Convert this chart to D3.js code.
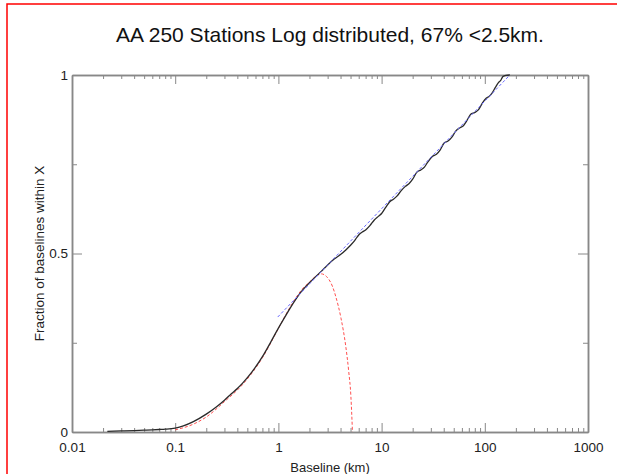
<!DOCTYPE html>
<html>
<head>
<meta charset="utf-8">
<script src="https://cdn.jsdelivr.net/npm/d3@7"></script>
<style>
body { margin: 0; background: #fff; }
svg { display: block; }
.tick text { font-family: "Liberation Sans", Arial, sans-serif; font-size: 13.5px; fill: #222; }
.axis path, .axis line { stroke: #888; }
</style>
</head>
<body>
<div class="graph-content"></div>
<script>
// measured cumulative fraction of baselines (km, fraction)
var baselineKm = [0.022, 0.03, 0.04, 0.05, 0.06, 0.07, 0.08, 0.1, 0.12, 0.15, 0.2, 0.25, 0.3, 0.35, 0.4, 0.45, 0.55, 0.7, 0.85, 1.0, 1.15, 1.3, 1.5, 1.72, 2.0, 2.31, 2.6,
    3.0, 3.5, 4.0, 4.5, 5.0, 5.5, 6.0, 6.5, 7.0, 7.7, 8.5, 9.3, 10, 11, 12, 13, 14, 15.5, 17, 18.5, 20, 22, 24, 26, 28, 31, 34, 37, 40, 44, 48, 52, 57, 62, 67, 73, 80, 87, 95, 103, 110, 118, 127, 135, 142, 150, 160, 175];
var fraction = [0.002, 0.003, 0.004, 0.005, 0.006, 0.007, 0.008, 0.011, 0.017, 0.029, 0.05, 0.07, 0.089, 0.107, 0.122, 0.137, 0.167, 0.211, 0.254, 0.291, 0.321, 0.347, 0.375, 0.398, 0.418, 0.436, 0.45,
    0.468, 0.485, 0.497, 0.51, 0.523, 0.537, 0.552, 0.56, 0.566, 0.578, 0.594, 0.604, 0.612, 0.63, 0.645, 0.652, 0.66, 0.676, 0.688, 0.696, 0.708, 0.728, 0.734, 0.742, 0.756, 0.772, 0.778, 0.79, 0.808, 0.815, 0.826, 0.842, 0.852, 0.858, 0.872, 0.89, 0.895, 0.903, 0.922, 0.935, 0.94, 0.95, 0.966, 0.978, 0.984, 0.996, 0.999, 1.0];

// red dashed fit (inner distribution)
var fitKm = [0.1, 0.15, 0.2, 0.3, 0.45, 0.7, 1.0, 1.3, 1.7, 2.0, 2.3, 2.6, 3.0, 3.35, 3.6, 4.04, 4.5, 4.8, 5.04, 5.22];
var fitFraction = [0.006, 0.022, 0.042, 0.085, 0.133, 0.208, 0.29, 0.35, 0.4, 0.42, 0.436, 0.443, 0.432, 0.407, 0.379, 0.319, 0.239, 0.17, 0.1, 0.0];

// blue dashed log-linear fit
var logFitKm = [0.985, 175];
var logFitFraction = [0.322, 1.0];

var yLabels = {"0": "0", "0.5": "0.5", "1": "1"};

var margin = {top: 75, right: 29, bottom: 42, left: 72},
    width = 617 - margin.left - margin.right,
    height = 474 - margin.top - margin.bottom;

var svgRoot = d3.select(".graph-content").append("svg")
    .attr("width", 617)
    .attr("height", 474);

// red frame
svgRoot.append("path")
    .attr("d", "M7,480 L7,4 L620,4")
    .attr("fill", "none")
    .attr("stroke", "#ff0000")
    .attr("stroke-width", 1.5);

svgRoot.append("text")
    .attr("x", margin.left + width / 2)
    .attr("y", 42)
    .attr("text-anchor", "middle")
    .style("font-family", "Liberation Sans, Arial, sans-serif")
    .style("font-size", "21px")
    .attr("fill", "#111")
    .text("AA 250 Stations Log distributed, 67% <2.5km.");

var svg = svgRoot.append("g")
    .attr("transform", "translate(" + margin.left + "," + margin.top + ")");

var x = d3.scaleLog().domain([0.01, 1000]).range([0, width]);
var y = d3.scaleLinear().domain([0, 1]).range([height, 0]);

var allTicks = x.ticks();
var majorX = allTicks.filter(function(d) { return Math.abs(Math.log10(d) - Math.round(Math.log10(d))) < 1e-9; });
var minorX = allTicks.filter(function(d) { return majorX.indexOf(d) < 0; });
var majorY = [0, 0.5, 1];
var minorY = [0.25, 0.75];

var fmtX = function(d) { return d >= 1 ? d3.format("d")(d) : String(+d.toPrecision(1)); };

// bottom axis
svg.append("g").attr("class", "axis")
    .attr("transform", "translate(0," + height + ")")
    .call(d3.axisBottom(x).tickValues(majorX).tickSize(-9).tickSizeOuter(0).tickPadding(4).tickFormat(fmtX))
    .selectAll(".tick text").attr("dy", "1.15em");
svg.append("g").attr("class", "axis")
    .attr("transform", "translate(0," + height + ")")
    .call(d3.axisBottom(x).tickValues(minorX).tickSize(-4).tickSizeOuter(0).tickFormat(""));
// top axis
svg.append("g").attr("class", "axis")
    .call(d3.axisTop(x).tickValues(majorX).tickSize(-9).tickSizeOuter(0).tickFormat(""));
svg.append("g").attr("class", "axis")
    .call(d3.axisTop(x).tickValues(minorX).tickSize(-4).tickSizeOuter(0).tickFormat(""));
// left axis
svg.append("g").attr("class", "axis")
    .call(d3.axisLeft(y).tickValues(majorY).tickSize(-10).tickSizeOuter(0).tickPadding(4)
        .tickFormat(function(d) { return yLabels[String(d)]; }));
svg.append("g").attr("class", "axis")
    .call(d3.axisLeft(y).tickValues(minorY).tickSize(-5).tickSizeOuter(0).tickFormat(""));
// right axis
svg.append("g").attr("class", "axis")
    .attr("transform", "translate(" + width + ",0)")
    .call(d3.axisRight(y).tickValues(majorY).tickSize(-10).tickSizeOuter(0).tickFormat(""));
svg.append("g").attr("class", "axis")
    .attr("transform", "translate(" + width + ",0)")
    .call(d3.axisRight(y).tickValues(minorY).tickSize(-5).tickSizeOuter(0).tickFormat(""));

svg.selectAll(".axis path").attr("stroke-width", 1.5);

var line = d3.line()
    .x(function(d) { return x(d[0]); })
    .y(function(d) { return y(d[1]); });

svg.append("path")
    .datum(d3.zip(fitKm, fitFraction))
    .attr("fill", "none")
    .attr("stroke", "#ff5050")
    .attr("stroke-width", 1)
    .attr("stroke-dasharray", "3,2")
    .attr("d", line.curve(d3.curveMonotoneX));

svg.append("path")
    .datum(d3.zip(baselineKm, fraction))
    .attr("fill", "none")
    .attr("stroke", "#2a2a2a")
    .attr("stroke-width", 1.3)
    .attr("d", line.curve(d3.curveMonotoneX));

svg.append("path")
    .datum(d3.zip(logFitKm, logFitFraction))
    .attr("fill", "none")
    .attr("stroke", "#6a6aff")
    .attr("stroke-width", 1)
    .attr("stroke-dasharray", "3,2")
    .attr("d", d3.line().x(function(d) { return x(d[0]); }).y(function(d) { return y(d[1]); }));

// axis titles
svgRoot.append("text")
    .attr("x", margin.left + width / 2)
    .attr("y", 472)
    .attr("text-anchor", "middle")
    .style("font-family", "Liberation Sans, Arial, sans-serif")
    .style("font-size", "13px")
    .attr("fill", "#222")
    .text("Baseline (km)");

svgRoot.append("text")
    .attr("transform", "translate(44," + (margin.top + height / 2) + ") rotate(-90)")
    .attr("text-anchor", "middle")
    .style("font-family", "Liberation Sans, Arial, sans-serif")
    .style("font-size", "13.5px")
    .attr("fill", "#222")
    .text("Fraction of baselines within X");
</script>
</body>
</html>
